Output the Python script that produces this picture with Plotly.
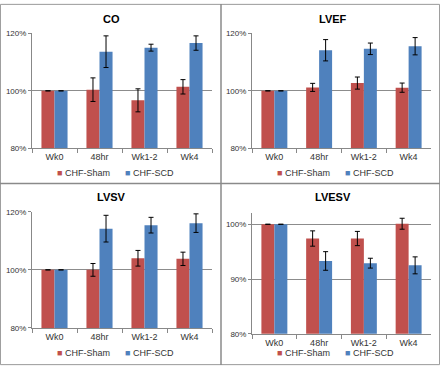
import plotly.graph_objects as go

categories = ["Wk0", "48hr", "Wk1-2", "Wk4"]

co_sham = [100.0, 100.4, 96.7, 101.4]
co_sham_err = [0.0, 4.1, 4.0, 2.5]
co_scd = [100.0, 113.6, 115.0, 116.6]
co_scd_err = [0.0, 5.5, 1.2, 2.5]

lvef_sham = [100.0, 101.2, 102.7, 101.1]
lvef_sham_err = [0.0, 1.4, 2.1, 1.6]
lvef_scd = [100.0, 114.1, 114.6, 115.5]
lvef_scd_err = [0.0, 3.7, 2.0, 3.0]

lvsv_sham = [100.0, 100.0, 104.0, 103.8]
lvsv_sham_err = [0.0, 2.2, 2.7, 2.3]
lvsv_scd = [100.0, 114.2, 115.4, 116.1]
lvsv_scd_err = [0.0, 4.6, 2.7, 3.2]

lvesv_sham = [100.0, 97.4, 97.4, 100.1]
lvesv_sham_err = [0.0, 1.4, 1.3, 1.0]
lvesv_scd = [100.0, 93.3, 92.9, 92.5]
lvesv_scd_err = [0.0, 1.7, 0.9, 1.55]

titles = ["CO", "LVEF", "LVSV", "LVESV"]
series_names = ["CHF-Sham", "CHF-SCD"]
ticks_main = [80, 100, 120]
ticks_lvesv = [80, 90, 100]

W, H = 440, 370
RED = "#C0504D"
BLUE = "#4F81BD"
FONT = "Liberation Sans"

def px(x):
    return x / W

def py(y):
    return 1 - y / H

panels = [
    dict(sham=co_sham, se=co_sham_err, scd=co_scd, de=co_scd_err,
         x=(32, 212), y=(30, 148), rng=[80, 120], tv=ticks_main,
         title=(112, 15), leg=(115, 173)),
    dict(sham=lvef_sham, se=lvef_sham_err, scd=lvef_scd, de=lvef_scd_err,
         x=(252, 431), y=(30, 148), rng=[80, 120], tv=ticks_main,
         title=(333, 15), leg=(335, 173)),
    dict(sham=lvsv_sham, se=lvsv_sham_err, scd=lvsv_scd, de=lvsv_scd_err,
         x=(32, 212), y=(213, 332), rng=[80, 120], tv=ticks_main,
         title=(112, 198), leg=(115, 358)),
    dict(sham=lvesv_sham, se=lvesv_sham_err, scd=lvesv_scd, de=lvesv_scd_err,
         x=(252, 431), y=(214, 338), rng=[80, 102.1], tv=ticks_lvesv,
         title=(333, 198), leg=(335, 358)),
]

fig = go.Figure()
layout = dict(
    width=W, height=H, margin=dict(l=0, r=0, t=0, b=0),
    paper_bgcolor="white", plot_bgcolor="white",
    barmode="group", bargap=0.42, bargroupgap=0.0,
    font=dict(family=FONT, size=9, color="#333333"),
    showlegend=False,
)
annotations = []
for i, p in enumerate(panels):
    k = "" if i == 0 else str(i + 1)
    for name, vals, errs, col in [
        (series_names[0], p["sham"], p["se"], RED),
        (series_names[1], p["scd"], p["de"], BLUE),
    ]:
        fig.add_trace(go.Bar(
            x=categories, y=vals, name=name, marker=dict(color=col, line=dict(width=0)),
            error_y=dict(type="data", array=errs, visible=True, color="black",
                         thickness=1, width=2.5),
            xaxis="x" + k, yaxis="y" + k,
        ))
    layout["xaxis" + k] = dict(
        domain=[px(p["x"][0]), px(p["x"][1])], anchor="y" + k,
        showline=True, linecolor="#888888", linewidth=1,
        ticks="outside", tickson="boundaries", ticklen=4, tickcolor="#888888",
        tickfont=dict(size=9, color="#333333"), showgrid=False,
    )
    layout["yaxis" + k] = dict(
        domain=[py(p["y"][1]), py(p["y"][0])], anchor="x" + k,
        range=p["rng"], tickmode="array", tickvals=p["tv"],
        ticktext=["%d%%" % v for v in p["tv"]],
        showline=True, linecolor="#888888", linewidth=1,
        ticks="outside", ticklen=3, tickcolor="#888888",
        showgrid=True, gridcolor="#8c8c8c", gridwidth=1,
        tickfont=dict(size=8, color="#333333"), zeroline=False,
    )
    legend_text = ('<span style="color:%s">■</span> %s      '
                   '<span style="color:%s">■</span> %s') % (RED, series_names[0], BLUE, series_names[1])
    annotations.append(dict(
        text=legend_text, x=px(p["leg"][0]), y=py(p["leg"][1]),
        xref="paper", yref="paper", showarrow=False, xanchor="center", yanchor="middle",
        font=dict(size=9, color="#333333", family=FONT),
    ))
    annotations.append(dict(
        text="<b>%s</b>" % titles[i], x=px(p["title"][0]), y=py(p["title"][1]),
        xref="paper", yref="paper", showarrow=False, xanchor="center", yanchor="middle",
        font=dict(size=11, color="black", family=FONT),
    ))

shapes = [
    dict(type="rect", xref="paper", yref="paper", x0=0.001, y0=0.001, x1=0.999, y1=0.999,
         line=dict(color="#9a9a9a", width=1), layer="below"),
    dict(type="line", xref="paper", yref="paper", x0=px(221), x1=px(221), y0=0, y1=1,
         line=dict(color="#8a8a8a", width=1.5), layer="below"),
    dict(type="line", xref="paper", yref="paper", x0=0, x1=1, y0=py(184), y1=py(184),
         line=dict(color="#8a8a8a", width=1.5), layer="below"),
]
layout["annotations"] = annotations
layout["shapes"] = shapes
fig.update_layout(**layout)
fig.write_html("out.html", config={"displayModeBar": False},
               post_script="document.body.style.margin='0';document.body.style.overflow='hidden';")
